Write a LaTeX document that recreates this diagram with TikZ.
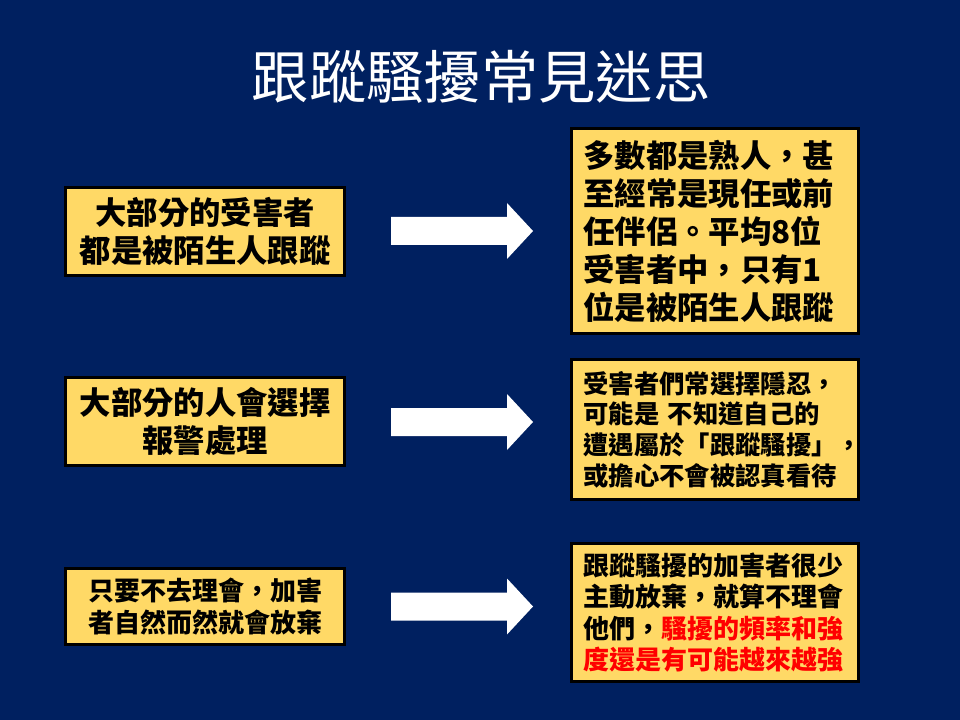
\documentclass[tikz,border=0pt]{standalone}
\usepackage{fontspec}
\setmainfont{Noto Sans CJK TC}

\definecolor{slidebg}{RGB}{0,32,96}
\definecolor{boxfill}{RGB}{255,217,102}
\definecolor{alertred}{RGB}{255,0,0}

\tikzset{
	myth box/.style={rectangle, draw=black, line width=2.25pt, fill=boxfill,
		minimum width=209.25pt, inner xsep=6pt, inner ysep=0pt,
		text width=197.25pt, align=center},
	fact box/.style={rectangle, draw=black, line width=2.25pt, fill=boxfill,
		minimum width=215.25pt, inner xsep=9pt, inner ysep=0pt,
		text width=197.25pt, align=left},
	block arrow/.style={fill=white, draw=none}}
\tikzset{every picture/.style={line width=0.75pt}}

\begin{document}
\begin{tikzpicture}[x=0.75pt,y=0.75pt,yscale=-1,xscale=1]
	%Shape: Rectangle [background]
	\fill[slidebg] (0,0) rectangle (960,720);

	% Text Node
	\node[text=white, font=\fontsize{43}{43}\selectfont] (title) at (481,77) {跟蹤騷擾常見迷思};

	%Shape: Rectangle [myths]
	\node[myth box, minimum height=66pt, font=\fontsize{23.5}{29}\selectfont\bfseries] (mythA) at (205,231.5) {大部分的受害者\\都是被陌生人跟蹤};
	\node[myth box, minimum height=66pt, font=\fontsize{23.5}{28.5}\selectfont\bfseries] (mythB) at (205,421.5) {大部分的人會選擇\\報警處理};
	\node[myth box, minimum height=57pt, font=\fontsize{19.5}{24}\selectfont\bfseries] (mythC) at (205,606.5) {只要不去理會，加害\\者自然而然就會放棄};

	%Shape: Rectangle [facts]
	\node[fact box, minimum height=153.75pt, font=\fontsize{23.5}{28.5}\selectfont\bfseries] (factA) at (715,231) {多數都是熟人，甚\\至經常是現任或前\\任伴侶。平均8位\\受害者中，只有1\\位是被陌生人跟蹤};
	\node[fact box, minimum height=105pt, font=\fontsize{19}{23}\selectfont\bfseries] (factB) at (715,429.5) {受害者們常選擇隱忍，\\可能是 不知道自己的\\遭遇屬於「跟蹤騷擾」，\\或擔心不會被認真看待};
	\node[fact box, minimum height=103.5pt, font=\fontsize{19.5}{23.7}\selectfont\bfseries] (factC) at (715,612.5) {跟蹤騷擾的加害者很少\\主動放棄，就算不理會\\他們，\textcolor{alertred}{騷擾的頻率和強}\\\textcolor{alertred}{度還是有可能越來越強}};

	%Shape: Right Arrow
	\coordinate (arrowA) at (391,231);
	\fill[block arrow] (arrowA) ++(0,-14) -- ++(116,0) -- ++(0,-14) -- ++(26,28) -- ++(-26,28) -- ++(0,-14) -- ++(-116,0) -- cycle;
	%Shape: Right Arrow
	\coordinate (arrowB) at (391,422);
	\fill[block arrow] (arrowB) ++(0,-14) -- ++(116,0) -- ++(0,-14) -- ++(26,28) -- ++(-26,28) -- ++(0,-14) -- ++(-116,0) -- cycle;
	%Shape: Right Arrow
	\coordinate (arrowC) at (391,606.5);
	\fill[block arrow] (arrowC) ++(0,-14) -- ++(116,0) -- ++(0,-14) -- ++(26,28) -- ++(-26,28) -- ++(0,-14) -- ++(-116,0) -- cycle;

\end{tikzpicture}
\end{document}
